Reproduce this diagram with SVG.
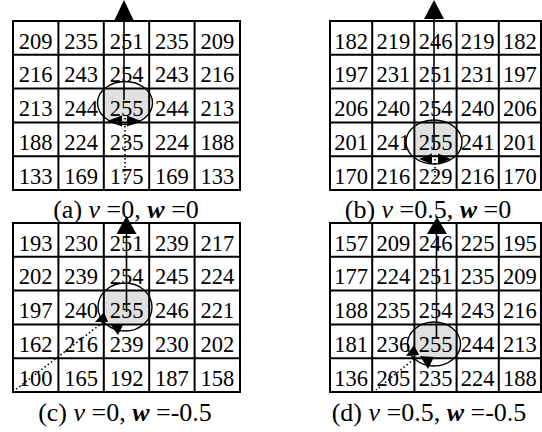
<svg xmlns="http://www.w3.org/2000/svg" width="542" height="432" viewBox="0 0 542 432">
<style>
.g{fill:none;stroke:#000;stroke-width:2}
.t{font-family:"Liberation Serif","Times New Roman",serif;font-size:22.5px;text-anchor:middle;fill:#000}
.c{font-family:"Liberation Serif","Times New Roman",serif;font-size:26px;text-anchor:middle;fill:#000}
.sl{stroke:#000;stroke-width:1.6;fill:none}
.dl{stroke:#000;stroke-width:1.6;stroke-dasharray:1.5 2.5;fill:none}
.el{stroke:#000;stroke-width:1.4;fill:none}
.sh{fill:#e0e0e0}
.ah{fill:#000}
</style>
<defs>
<clipPath id="ca"><ellipse cx="125" cy="103" rx="27.5" ry="21.5"/></clipPath>
<clipPath id="cb"><ellipse cx="434" cy="142" rx="28" ry="22"/></clipPath>
<clipPath id="cc"><ellipse cx="125" cy="307" rx="27" ry="24"/></clipPath>
<clipPath id="cd"><ellipse cx="434" cy="344" rx="26.5" ry="22"/></clipPath>
</defs>

<g id="panel-a">
<rect class="sh" x="103.6" y="88.6" width="45.4" height="33.8" clip-path="url(#ca)"/>
<g class="g">
<rect x="13" y="21" width="227" height="169"/>
<path d="M58.4 21V190M103.8 21V190M149.2 21V190M194.6 21V190M13 54.8H240M13 88.6H240M13 122.4H240M13 156.2H240"/>
</g>
<g class="t">
<text x="35.7" y="48.5">209</text><text x="81.1" y="48.5">235</text><text x="126.5" y="48.5">251</text><text x="171.9" y="48.5">235</text><text x="217.3" y="48.5">209</text>
<text x="35.7" y="82.3">216</text><text x="81.1" y="82.3">243</text><text x="126.5" y="82.3">254</text><text x="171.9" y="82.3">243</text><text x="217.3" y="82.3">216</text>
<text x="35.7" y="116.1">213</text><text x="81.1" y="116.1">244</text><text x="126.5" y="116.1">255</text><text x="171.9" y="116.1">244</text><text x="217.3" y="116.1">213</text>
<text x="35.7" y="149.9">188</text><text x="81.1" y="149.9">224</text><text x="126.5" y="149.9">235</text><text x="171.9" y="149.9">224</text><text x="217.3" y="149.9">188</text>
<text x="35.7" y="183.7">133</text><text x="81.1" y="183.7">169</text><text x="126.5" y="183.7">175</text><text x="171.9" y="183.7">169</text><text x="217.3" y="183.7">133</text>
</g>
<text class="c" x="126" y="218">(a) <tspan font-style="italic">v</tspan> =0, <tspan font-style="italic" font-weight="bold">w</tspan> =0</text>
</g>

<g id="panel-b">
<rect class="sh" x="415.7" y="122.4" width="42.3" height="33.8" clip-path="url(#cb)"/>
<g class="g">
<rect x="330" y="21" width="211" height="169"/>
<path d="M372.2 21V190M414.4 21V190M456.6 21V190M498.8 21V190M330 54.8H541M330 88.6H541M330 122.4H541M330 156.2H541"/>
</g>
<g class="t">
<text x="351.1" y="48.5">182</text><text x="393.3" y="48.5">219</text><text x="435.5" y="48.5">246</text><text x="477.7" y="48.5">219</text><text x="519.9" y="48.5">182</text>
<text x="351.1" y="82.3">197</text><text x="393.3" y="82.3">231</text><text x="435.5" y="82.3">251</text><text x="477.7" y="82.3">231</text><text x="519.9" y="82.3">197</text>
<text x="351.1" y="116.1">206</text><text x="393.3" y="116.1">240</text><text x="435.5" y="116.1">254</text><text x="477.7" y="116.1">240</text><text x="519.9" y="116.1">206</text>
<text x="351.1" y="149.9">201</text><text x="393.3" y="149.9">241</text><text x="435.5" y="149.9">255</text><text x="477.7" y="149.9">241</text><text x="519.9" y="149.9">201</text>
<text x="351.1" y="183.7">170</text><text x="393.3" y="183.7">216</text><text x="435.5" y="183.7">229</text><text x="477.7" y="183.7">216</text><text x="519.9" y="183.7">170</text>
</g>
<text class="c" x="428" y="218">(b) <tspan font-style="italic">v</tspan> =0.5, <tspan font-style="italic" font-weight="bold">w</tspan> =0</text>
</g>

<g id="panel-c">
<rect class="sh" x="103.6" y="290.6" width="45.4" height="33.8" clip-path="url(#cc)"/>
<g class="g">
<rect x="13" y="223" width="227" height="169"/>
<path d="M58.4 223V392M103.8 223V392M149.2 223V392M194.6 223V392M13 256.8H240M13 290.6H240M13 324.4H240M13 358.2H240"/>
</g>
<g class="t">
<text x="35.7" y="250.5">193</text><text x="81.1" y="250.5">230</text><text x="126.5" y="250.5">251</text><text x="171.9" y="250.5">239</text><text x="217.3" y="250.5">217</text>
<text x="35.7" y="284.3">202</text><text x="81.1" y="284.3">239</text><text x="126.5" y="284.3">254</text><text x="171.9" y="284.3">245</text><text x="217.3" y="284.3">224</text>
<text x="35.7" y="318.1">197</text><text x="81.1" y="318.1">240</text><text x="126.5" y="318.1">255</text><text x="171.9" y="318.1">246</text><text x="217.3" y="318.1">221</text>
<text x="35.7" y="351.9">162</text><text x="81.1" y="351.9">216</text><text x="126.5" y="351.9">239</text><text x="171.9" y="351.9">230</text><text x="217.3" y="351.9">202</text>
<text x="35.7" y="385.7">100</text><text x="81.1" y="385.7">165</text><text x="126.5" y="385.7">192</text><text x="171.9" y="385.7">187</text><text x="217.3" y="385.7">158</text>
</g>
<text class="c" x="125" y="421">(c) <tspan font-style="italic">v</tspan> =0, <tspan font-style="italic" font-weight="bold">w</tspan> =-0.5</text>
</g>

<g id="panel-d">
<rect class="sh" x="415.7" y="324.4" width="42.3" height="33.8" clip-path="url(#cd)"/>
<g class="g">
<rect x="330" y="223" width="211" height="169"/>
<path d="M372.2 223V392M414.4 223V392M456.6 223V392M498.8 223V392M330 256.8H541M330 290.6H541M330 324.4H541M330 358.2H541"/>
</g>
<g class="t">
<text x="351.1" y="250.5">157</text><text x="393.3" y="250.5">209</text><text x="435.5" y="250.5">246</text><text x="477.7" y="250.5">225</text><text x="519.9" y="250.5">195</text>
<text x="351.1" y="284.3">177</text><text x="393.3" y="284.3">224</text><text x="435.5" y="284.3">251</text><text x="477.7" y="284.3">235</text><text x="519.9" y="284.3">209</text>
<text x="351.1" y="318.1">188</text><text x="393.3" y="318.1">235</text><text x="435.5" y="318.1">254</text><text x="477.7" y="318.1">243</text><text x="519.9" y="318.1">216</text>
<text x="351.1" y="351.9">181</text><text x="393.3" y="351.9">236</text><text x="435.5" y="351.9">255</text><text x="477.7" y="351.9">244</text><text x="519.9" y="351.9">213</text>
<text x="351.1" y="385.7">136</text><text x="393.3" y="385.7">205</text><text x="435.5" y="385.7">235</text><text x="477.7" y="385.7">224</text><text x="519.9" y="385.7">188</text>
</g>
<text class="c" x="429" y="421">(d) <tspan font-style="italic">v</tspan> =0.5, <tspan font-style="italic" font-weight="bold">w</tspan> =-0.5</text>
</g>

<g id="connectors">
<!-- a -->
<ellipse class="el" cx="125" cy="103" rx="27.5" ry="21.5"/>
<path class="sl" d="M124 20V100"/>
<path class="ah" d="M124 0L114 21H134Z"/>
<path class="dl" d="M125 118V186"/>
<path class="ah" d="M107 121L122 115.5V126.5Z"/>
<path class="ah" d="M141 121L127 115.5V126.5Z"/>
<!-- b -->
<ellipse class="el" cx="434" cy="142" rx="28" ry="22"/>
<path class="sl" d="M434 18V150"/>
<path class="ah" d="M434 0L424 19H444Z"/>
<path class="dl" d="M435 155V179"/>
<path class="ah" d="M419 159L432 153.5V164.5Z"/>
<path class="ah" d="M451 159L438 153.5V164.5Z"/>
<!-- c -->
<ellipse class="el" cx="125" cy="307" rx="27" ry="24"/>
<path class="sl" d="M126.5 232V312"/>
<path class="ah" d="M126.5 216L116.5 234H136.5Z"/>
<path class="dl" d="M106 320L15 390"/>
<path class="ah" d="M95 322L104 312L108 322Z"/>
<path class="ah" d="M110 324L123 325L118 335Z"/>
<!-- d -->
<ellipse class="el" cx="434" cy="344" rx="26.5" ry="22"/>
<path class="sl" d="M436.5 232V338"/>
<path class="ah" d="M437 217L427 234H447Z"/>
<path class="dl" d="M414 359L376 390"/>
<path class="ah" d="M406 356L414 345L419 355Z"/>
<path class="ah" d="M420 356L434 357L428 369Z"/>
</g>
</svg>
